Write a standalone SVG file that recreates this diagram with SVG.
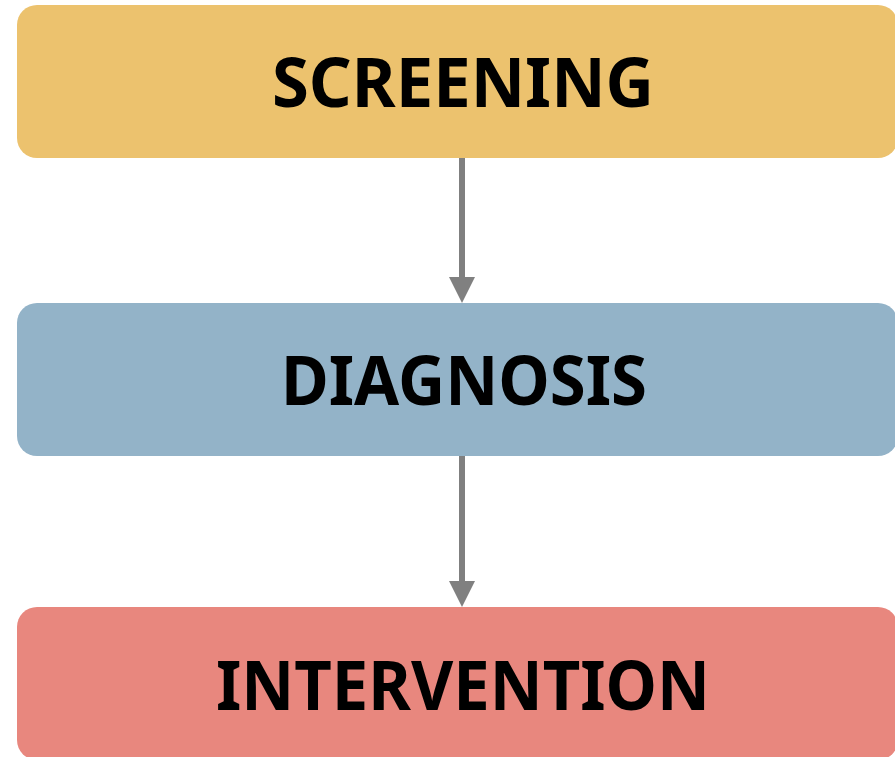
<svg xmlns="http://www.w3.org/2000/svg" width="895" height="757" viewBox="0 0 895 757">
<style>
.lbl{font-family:"Noto Sans","Open Sans","Liberation Sans",sans-serif;font-weight:bold;font-size:69px;fill:#000;text-anchor:middle}
.conn{stroke:#808080;stroke-width:6;fill:none}
.arrow{fill:#808080}
</style>
<rect width="895" height="757" fill="#fff"/>
<g id="connectors">
<line class="conn" x1="462" y1="158" x2="462" y2="278"/>
<path class="arrow" d="M449,277 L475,277 L462,303 Z"/>
<line class="conn" x1="462" y1="456" x2="462" y2="582"/>
<path class="arrow" d="M449,581 L475,581 L462,607 Z"/>
</g>
<g id="screening">
<rect x="17" y="5" width="881" height="153" rx="20" fill="#ECC26E"/>
<text class="lbl" x="463" y="107" textLength="382" lengthAdjust="spacingAndGlyphs">SCREENING</text>
</g>
<g id="diagnosis">
<rect x="17" y="303" width="881" height="153" rx="20" fill="#93B3C8"/>
<text class="lbl" x="464" y="405" textLength="366" lengthAdjust="spacingAndGlyphs">DIAGNOSIS</text>
</g>
<g id="intervention">
<rect x="17" y="607" width="881" height="153" rx="20" fill="#E8877E"/>
<text class="lbl" x="463" y="710" textLength="494" lengthAdjust="spacingAndGlyphs">INTERVENTION</text>
</g>
</svg>
